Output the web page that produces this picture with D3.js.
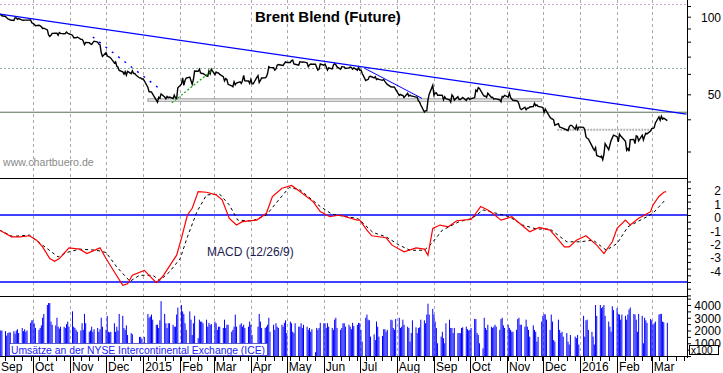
<!DOCTYPE html>
<html>
<head>
<meta charset="utf-8">
<script src="https://cdnjs.cloudflare.com/ajax/libs/d3/7.8.5/d3.min.js"></script>
<style>
  body { margin: 0; background: #fff; }
  svg { display: block; font-family: "Liberation Sans", Arial, sans-serif; }
</style>
</head>
<body>
<script>
// months shown on the x axis, one block of daily values per month (weekdays)
const months = ["2014-09","2014-10","2014-11","2014-12","2015-01","2015-02","2015-03","2015-04",
  "2015-05","2015-06","2015-07","2015-08","2015-09","2015-10","2015-11","2015-12","2016-01","2016-02","2016-03"];
const monthLabels = ["Sep","Oct","Nov","Dec","2015","Feb","Mar","Apr","May","Jun","Jul","Aug",
  "Sep","Oct","Nov","Dec","2016","Feb","Mar"];

// Brent close (USD), first block starts Sep 3 2014
const close = [
  [102.77,101.83,100.82,100.20,99.16,98.04,97.70,97.11,96.65,99.05,98.97,97.70,98.39,96.97,96.85,96.95,97.00,97.00,97.20,94.67],
  [94.16,93.42,92.31,92.69,92.11,91.38,90.05,90.21,88.89,85.04,83.78,84.73,86.16,86.22,86.22,84.71,86.83,86.13,85.83,86.03,87.12,86.24,85.86],
  [84.78,82.82,82.95,82.86,83.39,81.67,81.67,80.38,77.92,79.41,79.31,78.47,78.10,79.33,80.36,79.68,78.33,77.75,72.58,70.15],
  [72.54,70.54,69.92,69.64,69.07,66.19,66.84,64.24,63.68,61.85,61.06,59.86,61.18,59.27,61.38,60.11,61.69,60.24,60.24,59.45,57.88,57.90,57.33],
  [57.33,56.42,53.11,51.10,51.15,50.96,50.11,47.43,46.59,48.69,48.27,50.17,48.84,47.99,49.03,48.52,48.79,48.16,49.60,48.47,48.13,52.99],
  [54.75,57.91,54.16,56.57,57.80,58.34,56.43,54.66,57.05,61.52,61.40,62.53,60.53,60.21,60.22,58.90,58.66,61.63,60.05,62.58],
  [59.54,61.02,60.55,60.48,59.73,58.53,56.39,57.54,57.07,54.67,53.94,53.51,55.91,54.43,55.32,55.92,55.11,56.48,59.19,56.41,56.29,55.11],
  [57.10,54.95,54.95,58.12,59.10,55.55,56.57,57.87,57.93,58.43,60.32,63.98,63.45,63.45,62.08,62.72,64.85,65.28,64.83,64.64,65.84,66.78],
  [66.46,66.45,67.52,67.77,65.54,65.39,64.91,66.86,66.81,66.59,66.81,66.27,64.02,65.03,65.54,65.37,65.37,63.72,62.06,62.58,65.56],
  [64.88,65.49,63.80,62.03,63.31,62.69,64.88,65.70,65.10,63.87,62.61,64.00,63.87,63.87,63.02,63.34,63.81,63.49,62.58,63.26,62.01,63.59],
  [62.01,62.07,60.32,56.54,56.85,57.05,58.61,58.73,57.85,58.51,57.05,57.39,57.10,56.65,57.07,56.13,55.27,54.62,53.47,53.30,53.38,53.31,52.21],
  [49.52,49.99,49.59,49.52,48.61,50.41,49.18,49.66,49.22,49.19,48.74,48.81,47.16,46.62,45.46,42.69,43.21,43.14,47.56,50.05,54.15],
  [49.56,50.50,50.68,49.61,49.61,49.52,47.58,48.89,48.14,47.63,46.63,49.75,49.08,47.47,48.92,47.75,47.75,48.17,48.60,47.34,48.23,48.37],
  [47.69,48.13,48.54,51.92,51.33,53.05,52.65,49.86,49.24,49.15,48.71,50.46,48.61,48.71,47.85,48.08,47.99,47.54,46.81,49.05,48.80,49.56],
  [48.79,50.54,48.58,47.98,47.42,47.19,47.01,45.81,44.06,43.61,44.56,43.57,44.14,44.18,44.66,44.83,46.12,45.17,45.46,44.86,44.61],
  [44.44,42.49,43.84,43.00,40.73,40.26,40.11,39.73,37.93,38.45,37.35,37.19,37.06,36.88,36.35,36.11,37.36,37.89,37.89,36.62,37.79,36.46,37.28],
  [37.28,37.22,36.42,34.23,33.75,33.55,31.55,30.86,30.31,31.03,28.94,28.55,28.76,27.88,29.25,32.18,30.50,31.80,33.10,33.89,34.74],
  [34.24,32.72,35.04,34.46,34.06,32.88,30.32,30.84,30.06,33.36,33.39,32.18,34.50,34.28,33.01,34.69,33.27,34.41,35.29,35.10,35.97],
  [36.81,36.93,37.07,38.72,40.84,39.65,41.07,40.05,40.39,39.53]
];

// ICE volume (x100), same days as close
const volume = [
  [2050,2000,2000,1950,1600,1800,1850,1850,1950,1750,2000,2100,1800,2200,1950,2100,1900,2000,2600,2800],
  [2800,2550,2200,2050,2200,2400,3000,3300,4000,4150,4150,2700,2450,2400,3000,2300,2150,2300,2300,2200,2500,2700,2300],
  [3500,2300,2200,2050,1900,2000,2570,2050,3300,2570,1900,2000,2300,1900,2100,2200,1900,2100,3000,2300],
  [2050,3150,1900,1850,1900,2570,1900,2300,2000,3300,3150,2200,2050,2400,1650,1800,1700,900,0,0,1500,1500,1350],
  [0,1500,3300,3000,3100,3250,2850,2450,2450,2200,2800,4300,3300,2570,2200,2570,2570,2450,2300,2300,3250,3800],
  [4000,3500,3300,2570,2050,3500,2850,1650,2570,3150,1400,2850,2700,2700,2570,2850,2300,2600,2450,2500],
  [2700,2570,2050,2300,2300,2200,2850,2200,2450,2450,1900,2050,2300,3250,2300,2450,2570,2300,2450,2200,2300,2700],
  [2450,1650,0,0,2300,3300,2700,2200,2200,2300,2450,3000,1900,2450,2050,2570,2300,2200,2450,2300,2600,2800],
  [1800,2700,2570,1900,1800,2570,2300,2300,2570,2200,2450,2300,2050,2200,1900,2100,300,2200,2050,2200,2600],
  [2570,2570,2200,2570,2300,2200,2050,2850,3000,2200,2050,2200,2570,2570,2300,2450,2300,2100,2600,2350,2450,2600],
  [2570,2050,1130,3000,3250,2850,2800,1520,1700,1250,2700,2300,1520,1570,2100,2100,1900,2050,2850,2800,2200,2050,2900],
  [3000,2200,2300,2850,2450,2300,2200,1130,1800,2800,2250,1800,2200,2250,2850,2800,2570,3250,4100,3250,3700],
  [3250,2700,2200,1000,1520,1900,1400,1000,2570,2850,2200,2200,1800,2200,1800,1800,1800,2200,2250,2300,2100,2000],
  [2050,2200,2900,2900,1800,1650,1000,600,3000,2200,2050,2450,2300,2200,2300,2450,2300,2050,2900,3000,2400,2200],
  [2450,2200,2050,1900,1900,2050,2900,3000,2450,2450,2300,2850,2300,2050,1520,2400,2050,1900,1130,1500,2700],
  [3150,3300,3250,2850,2050,3250,2700,1250,1130,2850,2050,1800,1900,1520,1800,1130,900,1650,0,1520,1400,1650,900],
  [0,3150,1520,2800,2850,2050,1900,1520,900,4000,3150,4000,3750,3850,4000,3150,2700,2300,1900,3900,3600],
  [3750,3300,3250,2850,3250,3150,2850,3250,3650,3800,3300,3250,2850,1900,3300,3150,1000,3000,2800,2600,2900],
  [2800,2450,2570,2700,3250,3300,3300,2700,2650,2600]
];

// MACD (12/26/9)
const macd = [["2014-09-03",-1.13],["2014-09-13",-1.63],["2014-09-20",-1.63],["2014-09-28",-1.55],["2014-10-04",-1.88],
  ["2014-10-09",-2.38],["2014-10-15",-3.25],["2014-10-19",-3.45],["2014-10-23",-3.25],["2014-10-31",-2.45],["2014-11-09",-2.55],
  ["2014-11-15",-2.88],["2014-11-26",-2.45],["2014-12-01",-3.25],["2014-12-08",-4.25],["2014-12-15",-5.25],["2014-12-19",-5.13],
  ["2014-12-23",-4.5],["2015-01-02",-4.13],["2015-01-06",-4.5],["2015-01-12",-5.05],["2015-01-17",-4.63],["2015-01-29",-3.0],
  ["2015-02-02",-1.75],["2015-02-07",0],["2015-02-11",0.5],["2015-02-16",1.75],["2015-02-23",1.7],["2015-03-03",1.5],
  ["2015-03-08",1.13],["2015-03-14",-0.25],["2015-03-20",-0.75],["2015-03-25",-0.5],["2015-04-06",-0.38],["2015-04-14",0.13],
  ["2015-04-19",1.38],["2015-04-27",2.0],["2015-05-05",2.2],["2015-05-12",1.75],["2015-05-23",1.0],["2015-05-29",0.25],
  ["2015-06-06",-0.13],["2015-06-14",0],["2015-06-29",-0.38],["2015-07-01",-0.38],["2015-07-07",-1.13],["2015-07-11",-1.55],
  ["2015-07-23",-1.7],["2015-07-28",-2.25],["2015-08-07",-2.75],["2015-08-17",-2.45],["2015-08-24",-2.55],["2015-08-27",-3.0],
  ["2015-08-31",-1.0],["2015-09-06",-0.75],["2015-09-13",-0.88],["2015-09-20",-0.43],["2015-10-02",-0.33],["2015-10-05",0],
  ["2015-10-10",0.63],["2015-10-16",0.38],["2015-10-20",0.13],["2015-10-27",-0.38],["2015-11-05",-0.13],["2015-11-10",-0.5],
  ["2015-11-20",-1.25],["2015-11-28",-0.93],["2015-12-07",-1.13],["2015-12-13",-1.75],["2015-12-19",-2.38],["2015-12-23",-2.38],
  ["2015-12-29",-1.88],["2016-01-06",-1.55],["2016-01-15",-2.25],["2016-01-21",-2.88],["2016-01-28",-2.0],["2016-02-01",-1.0],
  ["2016-02-08",-0.38],["2016-02-12",-0.75],["2016-02-19",-0.25],["2016-02-23",-0.05],["2016-02-29",0.25],["2016-03-02",0.75],
  ["2016-03-07",1.38],["2016-03-11",1.7],["2016-03-13",1.75]];

const signal = [["2014-09-03",-1.13],["2014-09-14",-1.6],["2014-09-28",-1.5],["2014-10-09",-2.25],["2014-10-22",-3.13],
  ["2014-10-29",-2.8],["2014-11-09",-2.55],["2014-11-23",-2.63],["2014-12-01",-2.8],["2014-12-10",-3.88],["2014-12-21",-4.95],
  ["2014-12-29",-4.5],["2015-01-09",-4.5],["2015-01-15",-4.88],["2015-01-23",-4.25],["2015-02-01",-3.25],["2015-02-07",-1.63],
  ["2015-02-15",0.25],["2015-02-23",1.5],["2015-03-06",1.55],["2015-03-14",0.75],["2015-03-21",-0.38],["2015-04-02",-0.45],
  ["2015-04-14",0],["2015-04-22",0.88],["2015-05-03",2.05],["2015-05-12",1.88],["2015-05-29",0.63],["2015-06-08",0.05],
  ["2015-06-20",-0.13],["2015-06-29",-0.25],["2015-07-01",-0.38],["2015-07-12",-1.3],["2015-07-23",-1.63],["2015-08-03",-2.25],
  ["2015-08-12",-2.63],["2015-08-24",-2.63],["2015-08-30",-2.13],["2015-09-08",-1.13],["2015-09-22",-0.5],["2015-10-03",-0.25],
  ["2015-10-12",0.38],["2015-10-23",0.13],["2015-11-03",-0.13],["2015-11-14",-0.75],["2015-11-26",-1.05],["2015-12-07",-1.05],
  ["2015-12-21",-2.0],["2016-01-01",-2.0],["2016-01-12",-1.88],["2016-01-23",-2.63],["2016-02-01",-2.13],["2016-02-10",-0.88],
  ["2016-02-18",-0.5],["2016-02-26",-0.13],["2016-03-02",0.13],["2016-03-13",1.2]];

// lines drawn on the price panel
const trendMain = [["2014-09-03",102.4],["2016-03-30",41.9]];
const trendDotted = [["2014-11-20",83.4],["2015-01-15",52.4]];
const trendSummer = [["2015-07-05",63.1],["2015-08-22",48.2]];
const trendGreen = [["2015-01-25",46.3],["2015-02-28",62.1]];
const supportBox = [["2015-01-05",48.0],["2015-11-30",47.0]];
const supportLow = [["2015-12-13",36.45],["2016-03-01",36.45]];
const levelSolid = 42.6;
const levelDotted = [111.7, 63.1];

const priceTicks = [30,40,50,60,70,80,90,100,110];
const priceLabels = [50,100];
const macdLabels = [-4,-3,-2,-1,0,1,2];
const macdBands = [0,-5];
const volLabels = [1000,2000,3000,4000];

const W = 723, H = 373, R = 687;
const parse = d3.timeParse("%Y-%m-%d");

const svg = d3.select("body").append("svg").attr("width", W).attr("height", H);

const x = d3.scaleTime()
  .domain([new Date(2014, 8, 3, 10), new Date(2016, 2, 30, 10)])
  .range([0, R]);
const yP = d3.scaleLog().domain([50, 100]).range([94.3, 16.7]);
const yM = d3.scaleLinear().domain([-5, 2]).range([282, 188.2]);
const yV = d3.scaleLinear().domain([0, 4000]).range([356, 305]);

// daily series
const days = [];
months.forEach((m, i) => {
  const first = parse(m + "-01");
  const start = i === 0 ? parse(m + "-03") : first;
  const list = d3.timeDay.range(start, d3.timeMonth.offset(first, 1)).filter(d => d.getDay() % 6 !== 0);
  close[i].forEach((c, j) => days.push({ date: list[j], close: c, vol: volume[i][j] }));
});

const monthDates = months.map(m => parse(m + "-01"));

svg.append("defs").append("clipPath").attr("id", "clipP")
  .append("rect").attr("x", 0).attr("y", 0).attr("width", R).attr("height", 178);

// vertical grid
svg.append("g").selectAll("line")
  .data(monthDates.filter(d => x(d) > 0))
  .join("line")
  .attr("x1", d => Math.round(x(d)) + 0.5).attr("x2", d => Math.round(x(d)) + 0.5)
  .attr("y1", 0).attr("y2", 356)
  .attr("stroke", "#b0a6b0").attr("stroke-dasharray", "3,3");

// horizontal dotted levels
svg.append("g").selectAll("line")
  .data(levelDotted)
  .join("line")
  .attr("x1", 0).attr("x2", R)
  .attr("y1", d => Math.round(yP(d)) + 0.5).attr("y2", d => Math.round(yP(d)) + 0.5)
  .attr("stroke", (d, i) => i === 0 ? "#c8a8c8" : "#98b098")
  .attr("stroke-dasharray", "2,2");

const gP = svg.append("g").attr("clip-path", "url(#clipP)");

gP.append("line")
  .attr("x1", 0).attr("x2", R)
  .attr("y1", yP(levelSolid)).attr("y2", yP(levelSolid))
  .attr("stroke", "#587058").attr("stroke-width", 1);

gP.append("rect")
  .attr("x", x(parse(supportBox[0][0])))
  .attr("y", yP(supportBox[0][1]))
  .attr("width", x(parse(supportBox[1][0])) - x(parse(supportBox[0][0])))
  .attr("height", yP(supportBox[1][1]) - yP(supportBox[0][1]))
  .attr("fill", "#fbfbfb").attr("stroke", "#909090");

const seg = d3.line().x(d => x(parse(d[0]))).y(d => yP(d[1]));

gP.append("path").attr("d", seg(supportLow))
  .attr("fill", "none").attr("stroke", "#b4b4b4").attr("stroke-width", 2).attr("stroke-dasharray", "2,1");

gP.append("path")
  .datum(days)
  .attr("d", d3.line().x(d => x(d.date)).y(d => yP(d.close)))
  .attr("fill", "none").attr("stroke", "#000").attr("stroke-width", 1.4);

gP.append("path").attr("d", seg(trendMain))
  .attr("fill", "none").attr("stroke", "#0000ff").attr("stroke-width", 1.3);
gP.append("path").attr("d", seg(trendSummer))
  .attr("fill", "none").attr("stroke", "#0000ff").attr("stroke-width", 1);
gP.append("path").attr("d", seg(trendDotted))
  .attr("fill", "none").attr("stroke", "#0000ff").attr("stroke-width", 1.4).attr("stroke-dasharray", "2,6");
gP.append("path").attr("d", seg(trendGreen))
  .attr("fill", "none").attr("stroke", "#00a000").attr("stroke-width", 1.2).attr("stroke-dasharray", "2,2");

// panel frames
[178.5, 296.5, 356.5].forEach(y => {
  svg.append("line").attr("x1", 0).attr("x2", R).attr("y1", y).attr("y2", y).attr("stroke", "#000");
});

// MACD panel
svg.append("g").selectAll("line")
  .data(macdBands)
  .join("line")
  .attr("x1", 0).attr("x2", R)
  .attr("y1", d => yM(d)).attr("y2", d => yM(d))
  .attr("stroke", "#0000ff").attr("stroke-width", 1.3);

const mLine = d3.line().x(d => x(parse(d[0]))).y(d => yM(d[1]));
svg.append("path").attr("d", mLine(signal))
  .attr("fill", "none").attr("stroke", "#000").attr("stroke-width", 1).attr("stroke-dasharray", "3,3");
svg.append("path").attr("d", mLine(macd))
  .attr("fill", "none").attr("stroke", "#ff0000").attr("stroke-width", 1.2);

svg.append("text").attr("x", 207).attr("y", 255.5)
  .attr("font-size", 12).attr("fill", "#1c1c50").text("MACD (12/26/9)");

// volume bars
svg.append("g").selectAll("rect")
  .data(days.filter(d => d.vol > 0))
  .join("rect")
  .attr("x", d => x(d.date) - 0.5)
  .attr("width", 1)
  .attr("y", d => yV(d.vol))
  .attr("height", d => yV(0) - yV(d.vol))
  .attr("fill", "#0000ff");

svg.append("rect").attr("x", 9.5).attr("y", 343.5).attr("width", 258).attr("height", 12)
  .attr("fill", "#fff").attr("stroke", "#3c3cc8").attr("stroke-width", 0.8);
svg.append("text").attr("x", 11).attr("y", 353.5)
  .attr("font-size", 11).attr("fill", "#2222ff")
  .attr("textLength", 254).attr("lengthAdjust", "spacingAndGlyphs")
  .text("Umsätze an der NYSE Intercontinental Exchange (ICE)");

// right axes
svg.append("line").attr("x1", R + 0.5).attr("x2", R + 0.5).attr("y1", 0).attr("y2", 358).attr("stroke", "#000");

function rightAxis(scale, ticks, labels, fmt) {
  const g = svg.append("g").attr("transform", `translate(${R},0)`)
    .call(d3.axisRight(scale).tickValues(ticks).tickSize(4).tickSizeOuter(0)
      .tickFormat(d => labels.includes(d) ? fmt(d) : ""));
  g.select(".domain").remove();
  g.selectAll("text").attr("text-anchor", "end").attr("x", 34).attr("dy", "0.36em")
    .attr("font-size", 12).attr("font-family", "Liberation Sans, Arial, sans-serif").attr("fill", "#000");
  return g;
}
rightAxis(yP, priceTicks, priceLabels, d => String(d));
rightAxis(yM, d3.range(-6, 2.51, 0.5), macdLabels, d => String(d))
  .selectAll("text").attr("dy", "0.55em");
rightAxis(yV, d3.range(0, 4700, 500), volLabels, d => String(d));

svg.append("rect").attr("x", 689.5).attr("y", 345.5).attr("width", 29).attr("height", 9)
  .attr("fill", "#fff").attr("stroke", "#000");
svg.append("text").attr("x", 691).attr("y", 353.5).attr("font-size", 10).text("x100");

// x axis
svg.append("g").selectAll("line")
  .data(d3.timeMonday.range(x.domain()[0], x.domain()[1]))
  .join("line")
  .attr("x1", d => Math.round(x(d)) + 0.5).attr("x2", d => Math.round(x(d)) + 0.5)
  .attr("y1", 357).attr("y2", 361).attr("stroke", "#000");
svg.append("g").selectAll("line")
  .data(monthDates.filter(d => x(d) > 0))
  .join("line")
  .attr("x1", d => Math.round(x(d)) + 0.5).attr("x2", d => Math.round(x(d)) + 0.5)
  .attr("y1", 357).attr("y2", 373).attr("stroke", "#000");
svg.append("g").selectAll("text")
  .data(monthDates)
  .join("text")
  .attr("x", d => Math.max(1, x(d) + 2))
  .attr("y", 370.5)
  .attr("font-size", 12)
  .text((d, i) => monthLabels[i]);

// titles
svg.append("text").attr("x", 255).attr("y", 21.5)
  .attr("font-size", 15).attr("font-weight", "bold").text("Brent Blend (Future)");
svg.append("text").attr("x", 3).attr("y", 165.5)
  .attr("font-size", 10.6).attr("fill", "#8a8a8a").text("www.chartbuero.de");
</script>
</body>
</html>
